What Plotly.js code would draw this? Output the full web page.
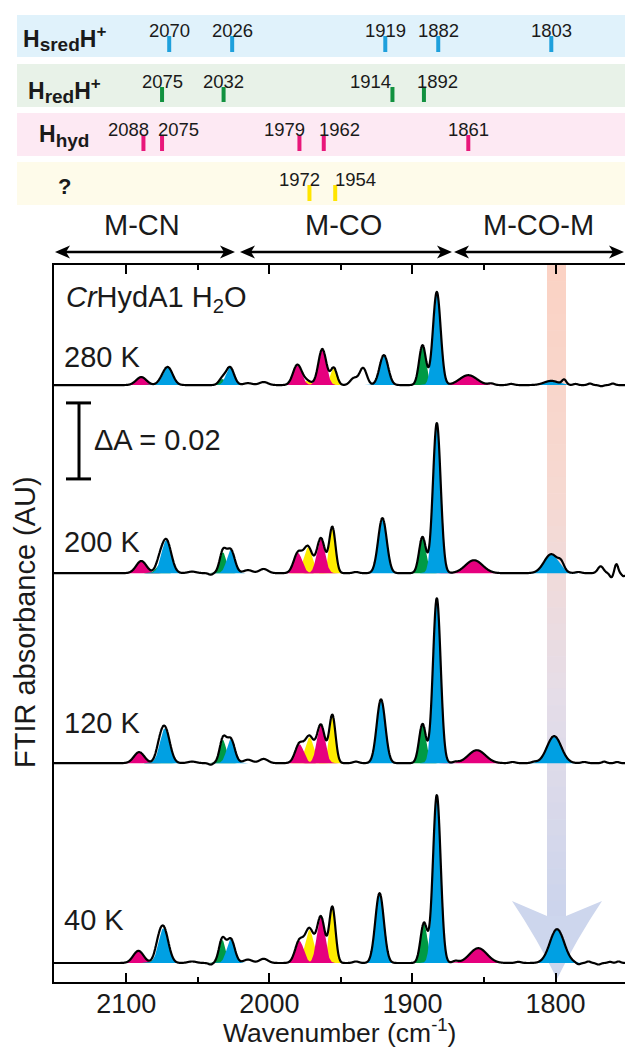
<!DOCTYPE html>
<html><head><meta charset="utf-8">
<script src="https://cdn.plot.ly/plotly-3.0.1.min.js"></script>
<style>html,body{margin:0;padding:0;background:#fff;}</style>
</head><body><div id="chart" style="width:625px;height:1048px;"></div>
<script>
// ================= DATA =================
// Band positions (cm-1) for each species (top panels)
const hsredPos = [2070, 2026, 1919, 1882, 1803];
const hredPos = [2075, 2032, 1914, 1892];
const hhydPos = [2088, 2075, 1979, 1962, 1861];
const unknownPos = [1972, 1954];

// Fitted components of the spectra (species, width sigma in cm-1)
const compSpecies = ['hhyd','hred','hsred','hred','hsred','hhyd','unk','hhyd','unk','hsred','hred','hsred','hhyd','hsred'];
const compWidth   = [3.6, 2.5, 3.4, 2.3, 2.8, 3.0, 3.0, 2.8, 2.2, 3.0, 2.4, 2.7, 6.0, 5.0];

const temps = ['280 K', '200 K', '120 K', '40 K'];
const offsets = [157.1, 107.6, 57.6, 5.0];   // mAU vertical offsets of traces

// component centres (cm-1) and heights (mAU) per temperature
const center280 = [2089.5, 2076, 2071, 2033, 2027.5, 1980.5, 1974, 1963, 1955, 1920, 1893, 1883, 1861, 1803];
const height280 = [2.1, 0.5, 4.7, 1.6, 4.7, 5.3, 1.1, 9.5, 4.5, 7.9, 10.5, 24.5, 2.6, 1.1];
const center200 = [2089.5, 2077, 2072, 2032.5, 2027, 1980, 1973, 1964, 1956, 1921, 1893, 1883, 1857, 1803];
const height200 = [3.2, 2.1, 8.7, 5.5, 6.1, 5.3, 6.8, 9.2, 12.1, 14.5, 9.5, 39.5, 3.4, 5.0];
const center120 = [2091, 2077, 2073, 2032.5, 2027, 1979, 1972, 1964, 1956, 1922, 1893, 1883, 1855, 1801];
const height120 = [2.9, 2.1, 9.2, 6.1, 6.3, 5.0, 6.8, 10.0, 12.6, 16.8, 10.3, 43.4, 3.4, 7.1];
const center40  = [2091.5, 2078, 2074, 2033, 2027, 1979, 1972, 1964, 1956, 1923, 1892, 1883, 1854, 1799];
const height40  = [3.2, 2.1, 9.2, 6.1, 6.3, 5.8, 8.7, 12.1, 14.7, 18.4, 10.5, 44.2, 3.9, 8.9];

// small unassigned features of the measured line (cm-1, mAU, sigma)
const extraPos280 = [2015, 2004, 1941, 1934.5, 1845, 1831, 1794, 1786, 1776, 1768, 1760];
const extraHt280  = [0.5, 0.8, 1.8, 4.5, 0.4, 0.3, 1.3, 0.3, 0.4, -0.3, 0.4];
const extraW280   = [3, 3, 2.5, 2.5, 2, 2, 1.5, 1.5, 1.5, 1.5, 1.5];
const extraPos200 = [2054, 2041, 2015, 2004, 1939.5, 1796, 1784, 1768.5, 1761, 1757.5, 1752.5];
const extraHt200  = [0.4, -0.4, 0.8, 1.1, 0.3, 1.6, 0.3, 1.8, -1.1, 2.4, -0.8];
const extraW200   = [3, 1.5, 3, 3, 2, 2, 2, 2, 1.2, 1.2, 1.2];
const extraPos120 = [2054, 2041, 2015, 2004, 1939.5, 1870, 1830, 1815, 1780, 1766, 1757];
const extraHt120  = [0.4, -0.4, 0.9, 1.1, 0.4, 0.3, 0.3, 0.3, 0.3, 0.4, 0.3];
const extraW120   = [3, 1.5, 3, 3, 2, 2, 2, 2, 2, 1.5, 1.5];
const extraPos40  = [2054, 2041, 2015, 2004, 1939.5, 1870, 1826, 1784, 1777, 1770, 1762, 1756];
const extraHt40   = [0.4, -0.4, 0.9, 1.1, 0.4, 0.5, 0.3, -0.4, 0.4, -0.4, 0.3, 0.4];
const extraW40    = [3, 1.5, 3, 3, 2, 2, 2, 1.5, 1.5, 1.5, 1.5, 1.5];

const scaleBar = 20; // mAU (ΔA = 0.02)

// ================= STYLE / LAYOUT HELPERS =================
const FONT = 'Liberation Sans, Arial, sans-serif';
const TXT = '#1a1a1a';
const L = 54, PW = 571, PH = 982;
const pxX = px => (px - L) / PW;
const pxY = py => 1 - py / PH;
const XR = [2150.5, 1751.5];
const YR = [0, 188.7];

const fillColors = {hsred:'#00a0e3', hred:'#009a44', hhyd:'#e6007e', unk:'#ffec00'};
const tickColors = {hsred:'#1ea0dc', hred:'#11913f', hhyd:'#e8177a', unk:'#ffe500'};
const drawOrder = ['unk','hhyd','hred','hsred'];

const spectra = [
  {c:center280, h:height280, ep:extraPos280, eh:extraHt280, ew:extraW280},
  {c:center200, h:height200, ep:extraPos200, eh:extraHt200, ew:extraW200},
  {c:center120, h:height120, ep:extraPos120, eh:extraHt120, ew:extraW120},
  {c:center40,  h:height40,  ep:extraPos40,  eh:extraHt40,  ew:extraW40}
];

const gauss = (x, c, h, s) => h * Math.exp(-((x - c) * (x - c)) / (2 * s * s));
const grid = [];
for (let x = XR[0]; x >= XR[1] - 0.001; x -= 0.25) grid.push(x);

const traces = [];
const lineTraces = [];
spectra.forEach((sp, k) => {
  const off = offsets[k];
  drawOrder.forEach(sname => {
    compSpecies.forEach((s, i) => {
      if (s !== sname) return;
      const c = sp.c[i], h = sp.h[i], w = compWidth[i];
      const xs = grid.filter(x => Math.abs(x - c) <= 4.5 * w);
      const ys = xs.map(x => off + gauss(x, c, h, w));
      xs.unshift(xs[0]); ys.unshift(off);
      xs.push(xs[xs.length - 1]); ys.push(off);
      traces.push({x: xs, y: ys, type: 'scatter', mode: 'lines', fill: 'toself',
        fillcolor: fillColors[s], line: {width: 0, color: fillColors[s]}, hoverinfo: 'skip', showlegend: false});
    });
  });
  const ys = grid.map(x => {
    let v = off;
    sp.c.forEach((c, i) => { v += gauss(x, c, sp.h[i], compWidth[i]); });
    sp.ep.forEach((c, i) => { v += gauss(x, c, sp.eh[i], sp.ew[i]); });
    return v;
  });
  lineTraces.push({x: grid, y: ys, type: 'scatter', mode: 'lines',
    line: {color: '#000', width: 2.2, shape: 'spline', smoothing: 0.3}, hoverinfo: 'skip', showlegend: false});
});

// top panel tick marks
const bandDefs = [
  {key:'hsred', pos:hsredPos, y:[36,52], ly:30, shifts:[0,0,0,0,0]},
  {key:'hred', pos:hredPos, y:[87,102], ly:81, shifts:[0,0,-22,14]},
  {key:'hhyd', pos:hhydPos, y:[135,151], ly:129, shifts:[-15,16,-15,16,0]},
  {key:'unk', pos:unknownPos, y:[185,201], ly:179, shifts:[-10,20]}
];
const annotations = [];
bandDefs.forEach(b => {
  const xs = [], ys = [];
  b.pos.forEach((p, i) => {
    xs.push(p, p, null); ys.push(b.y[0], b.y[1], null);
    annotations.push({x: p, y: b.ly, xref: 'x', yref: 'y2', text: String(p), showarrow: false,
      xanchor: 'center', yanchor: 'middle', xshift: b.shifts[i],
      font: {family: FONT, size: 18.5, color: TXT}});
  });
  traces.push({x: xs, y: ys, xaxis: 'x', yaxis: 'y2', type: 'scatter', mode: 'lines',
    line: {color: tickColors[b.key], width: 4}, hoverinfo: 'skip', showlegend: false});
});

// species labels
const labFont = {family: FONT, size: 23, color: TXT};
annotations.push(
  {x: pxX(21), y: 38, xref: 'paper', yref: 'y2', xanchor: 'left', yanchor: 'middle', showarrow: false, font: labFont,
   text: '<b>H<sub><span style="font-size:19px">sred</span></sub>H<sup><span style="font-size:17px">+</span></sup></b>'},
  {x: pxX(26), y: 90, xref: 'paper', yref: 'y2', xanchor: 'left', yanchor: 'middle', showarrow: false, font: labFont,
   text: '<b>H<sub><span style="font-size:19px">red</span></sub>H<sup><span style="font-size:17px">+</span></sup></b>'},
  {x: pxX(37), y: 136, xref: 'paper', yref: 'y2', xanchor: 'left', yanchor: 'middle', showarrow: false, font: labFont,
   text: '<b>H<sub><span style="font-size:19px">hyd</span></sub></b>'},
  {x: pxX(64), y: 186, xref: 'paper', yref: 'y2', xanchor: 'center', yanchor: 'middle', showarrow: false,
   font: {family: FONT, size: 22, color: TXT}, text: '<b>?</b>'}
);

const bigFont = {family: FONT, size: 29, color: TXT};
// region labels
[['M-CN', 142], ['M-CO', 343], ['M-CO-M', 538]].forEach(r => {
  annotations.push({x: pxX(r[1]), y: 225, xref: 'paper', yref: 'y2', text: r[0], showarrow: false,
    xanchor: 'center', yanchor: 'middle', font: bigFont});
});

// text in main plot
annotations.push(
  {x: pxX(64), y: pxY(299), xref: 'paper', yref: 'paper', xanchor: 'left', yanchor: 'middle', showarrow: false,
   font: bigFont, text: '<i>Cr</i>HydA1 H<sub>2</sub>O'},
  {x: pxX(92), y: pxY(440), xref: 'paper', yref: 'paper', xanchor: 'left', yanchor: 'middle', showarrow: false,
   font: bigFont, text: 'ΔA = 0.02'}
);
const labelY = [357, 542, 723, 920];
temps.forEach((t, k) => {
  annotations.push({x: pxX(62), y: pxY(labelY[k]), xref: 'paper', yref: 'paper', xanchor: 'left', yanchor: 'middle',
    showarrow: false, font: bigFont, text: t});
});
// axis titles
annotations.push(
  {x: 0.5, y: pxY(1049), xref: 'paper', yref: 'paper', xanchor: 'center', yanchor: 'bottom', showarrow: false,
   font: {family: FONT, size: 26.5, color: TXT}, text: 'Wavenumber (cm<sup>-1</sup>)', borderpad: 0},
  {x: pxX(25), y: pxY(622), xref: 'paper', yref: 'paper', xanchor: 'center', yanchor: 'middle', showarrow: false,
   font: bigFont, text: 'FTIR absorbance (AU)', textangle: -90}
);

// ================= SHAPES =================
const shapes = [];
const bandY = [[15,57],[64,107],[113,156],[162,205]];
const bandFill = ['#e0f2fb', '#e8f2e8', '#fde9f3', '#fefbea'];
bandY.forEach((b, i) => shapes.push({type: 'rect', xref: 'paper', yref: 'y2', x0: pxX(17), x1: 1, y0: b[0], y1: b[1],
  fillcolor: bandFill[i], line: {width: 0}, layer: 'below'}));

// double arrows
function arrowShapes(a, b, y) {
  const hl = 15, hw = 6.5, n = 11;
  shapes.push({type: 'line', xref: 'paper', yref: 'paper', x0: pxX(a + 8), x1: pxX(b - 8), y0: pxY(y), y1: pxY(y),
    line: {color: '#000', width: 2.6}});
  const P = (x, yy) => pxX(x).toFixed(5) + ',' + pxY(yy).toFixed(5);
  shapes.push({type: 'path', xref: 'paper', yref: 'paper', fillcolor: '#000', line: {width: 0},
    path: 'M' + P(a, y) + 'L' + P(a + hl, y - hw) + 'L' + P(a + n, y) + 'L' + P(a + hl, y + hw) + 'Z'});
  shapes.push({type: 'path', xref: 'paper', yref: 'paper', fillcolor: '#000', line: {width: 0},
    path: 'M' + P(b, y) + 'L' + P(b - hl, y - hw) + 'L' + P(b - n, y) + 'L' + P(b - hl, y + hw) + 'Z'});
}
arrowShapes(55, 235, 252);
arrowShapes(240, 452, 252);
arrowShapes(454, 624, 252);

// gradient band with arrow
const stops = [[265, [251,210,195]], [500, [246,217,210]], [700, [229,221,232]], [917, [203,212,236]]];
function colAt(py) {
  for (let i = 0; i < stops.length - 1; i++) {
    const [y0, c0] = stops[i], [y1, c1] = stops[i + 1];
    if (py <= y1) { const t = (py - y0) / (y1 - y0); return 'rgb(' + c0.map((v, j) => Math.round(v + t * (c1[j] - v))).join(',') + ')'; }
  }
  return 'rgb(203,212,236)';
}
const N = 40;
for (let i = 0; i < N; i++) {
  const y0 = 265 + i * (917 - 265) / N, y1 = 265 + (i + 1) * (917 - 265) / N + 0.6;
  shapes.push({type: 'rect', xref: 'paper', yref: 'paper', x0: pxX(547), x1: pxX(566), y0: pxY(y0), y1: pxY(y1),
    fillcolor: colAt((y0 + y1) / 2), line: {width: 0}, layer: 'below'});
}
{
  const P = (x, yy) => pxX(x).toFixed(5) + ',' + pxY(yy).toFixed(5);
  shapes.push({type: 'path', xref: 'paper', yref: 'paper', fillcolor: 'rgb(205,214,237)', line: {width: 0}, layer: 'below',
    path: 'M' + P(547, 916) + 'L' + P(512, 901) + 'Q' + P(538, 940) + ' ' + P(557, 979) + 'Q' + P(576, 940) + ' ' + P(602, 901) + 'L' + P(566, 916) + 'Z'});
}

// scale bar (ΔA = 0.02)
const sbTop = offsets[0] - 4.7; // top of bar in mAU
shapes.push({type: 'line', xref: 'paper', yref: 'y', x0: pxX(79), x1: pxX(79), y0: sbTop, y1: sbTop - scaleBar, line: {color: '#000', width: 3}});
shapes.push({type: 'line', xref: 'paper', yref: 'y', x0: pxX(66), x1: pxX(91), y0: sbTop, y1: sbTop, line: {color: '#000', width: 3}});
shapes.push({type: 'line', xref: 'paper', yref: 'y', x0: pxX(66), x1: pxX(91), y0: sbTop - scaleBar, y1: sbTop - scaleBar, line: {color: '#000', width: 3}});

const mainTop = 1 - 265 / PH;
const layout = {
  width: 625, height: 1048,
  margin: {l: L, r: 0, t: 0, b: 1048 - PH},
  paper_bgcolor: '#fff', plot_bgcolor: 'rgba(0,0,0,0)',
  showlegend: false,
  font: {family: FONT, color: TXT},
  xaxis: {range: XR, domain: [0, 1], anchor: 'y', showgrid: false, zeroline: false,
    showline: true, linecolor: '#000', linewidth: 2, mirror: 'ticks',
    ticks: 'inside', ticklen: 9, tickwidth: 2, tickcolor: '#000', tick0: 2100, dtick: 100,
    tickfont: {family: FONT, size: 27, color: TXT}, ticklabelstandoff: -3,
    minor: {dtick: 50, tick0: 2050, ticks: 'inside', ticklen: 5, tickwidth: 2, tickcolor: '#000'}},
  yaxis: {range: YR, domain: [0, mainTop], anchor: 'x', showgrid: false, zeroline: false, showline: true,
    linecolor: '#000', linewidth: 2, ticks: '', showticklabels: false},
  yaxis2: {range: [265, 0], domain: [mainTop, 1], anchor: 'x', visible: false, showgrid: false, zeroline: false},
  shapes: shapes,
  annotations: annotations
};

Plotly.newPlot('chart', traces.concat(lineTraces), layout, {displayModeBar: false, staticPlot: true});
</script></body></html>
